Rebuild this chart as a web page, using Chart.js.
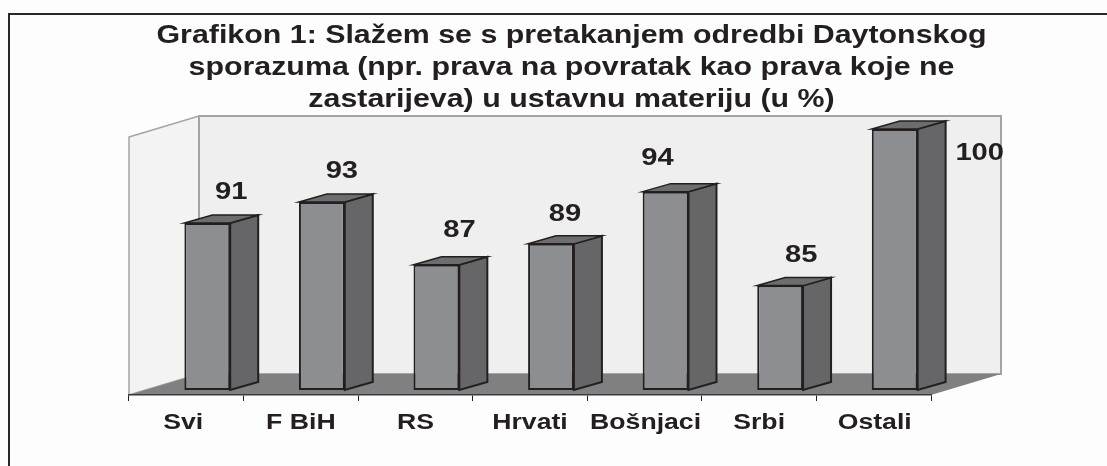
<!DOCTYPE html>
<html><head><meta charset="utf-8">
<style>html,body{margin:0;padding:0;background:#fff;overflow:hidden}#c{display:block}</style>
<script src="https://cdn.jsdelivr.net/npm/chart.js@4/dist/chart.umd.min.js"></script>
</head><body>
<canvas id="c" width="1107" height="466"></canvas>
<script>
const categories = ["Svi", "F BiH", "RS", "Hrvati", "Bošnjaci", "Srbi", "Ostali"];
const values = [91, 93, 87, 89, 94, 85, 100];
const titleLines = [
  "Grafikon 1: Slažem se s pretakanjem odredbi Daytonskog",
  "sporazuma (npr. prava na povratak kao prava koje ne",
  "zastarijeva) u ustavnu materiju (u %)"
];
const labelShiftX = [24, 20, 23, 14, -8, 21, 85];
const labelShiftY = [-24, -24, -28, -23, -27, -24, 31];
const tickShiftX = [-3, 0, 0, 0, 1, 0, 1];
const axisMin = 75;
const axisMax = 100;

const INK = '#231f20';
const WALL = {dx: 70, dy: -21, topOver: 3};
const FRONT = {dx: 21, dy: -5};
const DEPTH = {dx: 28, dy: -8};
const TEXT_STRETCH = 1.2;

function poly(ctx, pts, fill, stroke, lw) {
  ctx.beginPath();
  pts.forEach((p, i) => i ? ctx.lineTo(p[0], p[1]) : ctx.moveTo(p[0], p[1]));
  ctx.closePath();
  if (fill) { ctx.fillStyle = fill; ctx.fill(); }
  if (stroke) { ctx.strokeStyle = stroke; ctx.lineWidth = lw; ctx.lineJoin = 'miter'; ctx.stroke(); }
}

const scene3d = {
  id: 'scene3d',
  beforeInit(chart) {
    // the reference's lettering is stretched sideways
    const ctx = chart.ctx, fill = ctx.fillText;
    ctx.fillText = function (t, x, y, m) {
      ctx.save();
      ctx.scale(TEXT_STRETCH, 1);
      if (m === undefined) fill.call(ctx, t, x / TEXT_STRETCH, y);
      else fill.call(ctx, t, x / TEXT_STRETCH, y, m);
      ctx.restore();
    };
  },
  afterLayout(chart) {
    chart.titleBlock.left += 41.5;
    chart.titleBlock.right += 41.5;
    const s = chart.scales.x;
    if (!s._shifted) {
      s._shifted = true;
      const items = s._computeLabelItems;
      s._computeLabelItems = function (a) {
        const out = items.call(this, a);
        out.forEach((it, i) => { it.options.translation[0] += tickShiftX[i]; });
        return out;
      };
    }
  },
  beforeDraw(chart) {
    const {ctx, chartArea: a, width, height} = chart;
    ctx.save();
    ctx.fillStyle = '#fdfdfd';
    ctx.fillRect(0, 0, width, height);
    // outer frame
    ctx.strokeStyle = '#2a2728';
    ctx.lineWidth = 2;
    ctx.beginPath();
    ctx.moveTo(9, height); ctx.lineTo(9, 14); ctx.lineTo(width, 14);
    ctx.stroke();
    const L = a.left, R = a.right, B = a.bottom, T = a.top + WALL.topOver;
    const x2 = WALL.dx, y2 = WALL.dy;
    // walls
    poly(ctx, [[L, T], [L + x2, T + y2], [L + x2, B + y2], [L, B]], '#f3f3f3', '#a3a4a6', 1.5);
    poly(ctx, [[L + x2, T + y2], [R + x2, T + y2], [R + x2, B + y2], [L + x2, B + y2]], '#efefef', '#a3a4a6', 2);
    // floor
    poly(ctx, [[L, B], [R, B], [R + x2, B + y2], [L + x2, B + y2]], '#807f81');
    ctx.restore();
  },
  beforeDatasetDraw(chart) {
    chart.ctx.save();
    chart.ctx.translate(FRONT.dx, FRONT.dy);
  },
  afterDatasetDraw(chart, args) {
    const ctx = chart.ctx;
    args.meta.data.forEach(bar => {
      const {x, y, base, width} = bar.getProps(['x', 'y', 'base', 'width'], true);
      const xr = x + width / 2, xl = x - width / 2;
      poly(ctx, [[xr, y], [xr + DEPTH.dx, y + DEPTH.dy], [xr + DEPTH.dx, base + DEPTH.dy], [xr, base]], '#666668', INK, 2);
      poly(ctx, [[xl, y], [xr, y], [xr + DEPTH.dx, y + DEPTH.dy], [xl + DEPTH.dx, y + DEPTH.dy]], '#6d6d6f', INK, 1.5);
    });
    ctx.restore();
  },
  afterDatasetsDraw(chart) {
    const ctx = chart.ctx;
    ctx.save();
    ctx.fillStyle = INK;
    ctx.font = 'bold 24.3px "Liberation Sans", Arial, sans-serif';
    ctx.textAlign = 'center';
    ctx.textBaseline = 'alphabetic';
    chart.getDatasetMeta(0).data.forEach((bar, i) => {
      const x = bar.x + FRONT.dx + labelShiftX[i];
      const y = bar.y + FRONT.dy + labelShiftY[i];
      ctx.fillText(String(values[i]), x, y);
    });
    ctx.restore();
  }
};

new Chart(document.getElementById('c'), {
  type: 'bar',
  data: {
    labels: categories,
    datasets: [{
      data: values,
      base: axisMin,
      backgroundColor: '#8c8e91',
      borderColor: INK,
      borderWidth: 2,
      borderSkipped: false,
      categoryPercentage: 0.4,
      barPercentage: 1,
      clip: false
    }]
  },
  options: {
    responsive: false,
    animation: false,
    events: [],
    layout: {padding: {left: 129, right: 176, top: 0, bottom: 0}},
    plugins: {
      legend: {display: false},
      tooltip: {enabled: false},
      title: {
        display: true,
        text: titleLines,
        color: INK,
        font: {family: '"Liberation Sans", Arial, sans-serif', size: 25.3, weight: 'bold', lineHeight: 1.265},
        padding: {top: 20, bottom: 18}
      }
    },
    scales: {
      x: {
        offset: true,
        grid: {display: true, drawOnChartArea: false, drawTicks: true, tickLength: 6, color: INK, offset: true},
        border: {display: true, color: '#3a3a3c', width: 1.5},
        ticks: {
          color: INK,
          autoSkip: false,
          maxRotation: 0,
          padding: 9,
          font: {family: '"Liberation Sans", Arial, sans-serif', size: 22.2, weight: 'bold'}
        },
        afterFit(s) { s.height = 71; }
      },
      y: {display: false, min: axisMin, max: axisMax}
    }
  },
  plugins: [scene3d]
});
</script>
</body></html>
